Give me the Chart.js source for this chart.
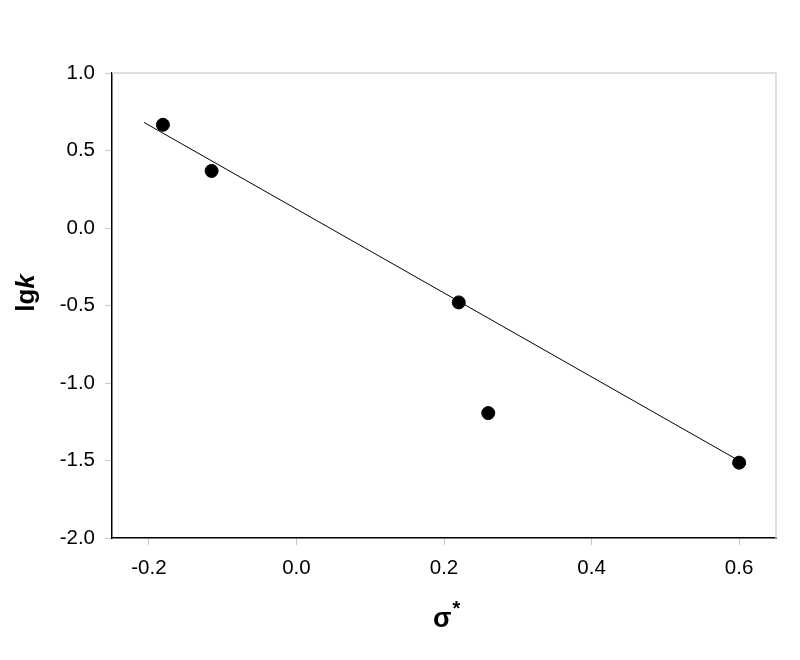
<!DOCTYPE html>
<html>
<head>
<meta charset="utf-8">
<title>lgk vs sigma*</title>
<script src="https://cdn.jsdelivr.net/npm/chart.js@4/dist/chart.umd.min.js"></script>
<style>
  body { margin: 0; background: #fff; }
  #wrap { width: 800px; height: 660px; }
</style>
</head>
<body>
<div id="wrap"><canvas id="chart" width="800" height="660"></canvas></div>
<script>
// ---- data ----
const sigmaStar = [-0.181, -0.115, 0.220, 0.260, 0.600];
const lgK = [0.666, 0.368, -0.480, -1.194, -1.514];

// regression line, two end points as drawn
const fitX = [-0.2065, 0.609];
const fitY = [0.681, -1.526];

const xTicks = [-0.2, 0.0, 0.2, 0.4, 0.6];
const yTicks = [1.0, 0.5, 0.0, -0.5, -1.0, -1.5, -2.0];

const FONT = "'Liberation Sans', Arial, sans-serif";

// draws the axis titles (mixed bold / italic) and the faint top/right frame
const extras = {
    id: 'extras',
    beforeDatasetsDraw(chart) {
        const ctx = chart.ctx, a = chart.chartArea;
        ctx.save();
        ctx.strokeStyle = '#d4d4d4';
        ctx.lineWidth = 1.5;
        ctx.beginPath();
        ctx.moveTo(a.left, a.top);
        ctx.lineTo(a.right, a.top);
        ctx.lineTo(a.right, a.bottom);
        ctx.stroke();
        ctx.restore();
    },
    afterDraw(chart) {
        const ctx = chart.ctx;
        ctx.save();
        ctx.fillStyle = '#000';
        ctx.textBaseline = 'alphabetic';

        // y title: "lg" + italic "k"
        ctx.font = 'bold 26px ' + FONT;
        const w1 = ctx.measureText('lg').width;
        ctx.font = 'italic bold 26px ' + FONT;
        const w2 = ctx.measureText('k').width;
        const total = w1 + w2;
        ctx.translate(34, 293 + total / 2);
        ctx.rotate(-Math.PI / 2);
        ctx.font = 'bold 26px ' + FONT;
        ctx.fillText('lg', 0, 0);
        ctx.font = 'italic bold 26px ' + FONT;
        ctx.fillText('k', w1, 0);
        ctx.restore();

        // x title: sigma with raised star
        ctx.save();
        ctx.fillStyle = '#000';
        ctx.font = 'bold 27px ' + FONT;
        const ws = ctx.measureText('σ').width;
        ctx.fillText('σ', 433, 627);
        ctx.font = 'bold 20px ' + FONT;
        ctx.fillText('*', 433 + ws + 1, 615);
        ctx.restore();
    }
};

const ctx = document.getElementById('chart').getContext('2d');

const myChart = new Chart(ctx, {
    type: 'scatter',
    data: {
        datasets: [
            {
                label: 'lgk',
                data: sigmaStar.map((x, i) => ({ x: x, y: lgK[i] })),
                backgroundColor: '#000',
                borderColor: '#000',
                pointRadius: 6.5,
                pointHoverRadius: 6.5
            },
            {
                type: 'line',
                label: 'fit',
                data: fitX.map((x, i) => ({ x: x, y: fitY[i] })),
                borderColor: '#000',
                borderWidth: 1,
                pointRadius: 0,
                fill: false
            }
        ]
    },
    options: {
        responsive: false,
        animation: false,
        devicePixelRatio: 1,
        layout: { padding: { top: 73, right: 24, left: 0, bottom: 0 } },
        plugins: {
            legend: { display: false },
            tooltip: { enabled: false }
        },
        scales: {
            x: {
                type: 'linear',
                min: -0.25,
                max: 0.65,
                afterBuildTicks: s => { s.ticks = xTicks.map(v => ({ value: v })); },
                afterFit: s => { s.height = 122; },
                grid: {
                    drawOnChartArea: false,
                    color: '#c8c8c8',
                    tickLength: 7,
                    lineWidth: 1
                },
                border: { display: true, color: '#000', width: 1.5 },
                ticks: {
                    color: '#000',
                    font: { family: FONT, size: 20.5 },
                    padding: 11,
                    maxRotation: 0,
                    callback: v => Number(v).toFixed(1)
                }
            },
            y: {
                type: 'linear',
                min: -2,
                max: 1,
                afterBuildTicks: s => { s.ticks = yTicks.map(v => ({ value: v })); },
                afterFit: s => { s.width = 112; },
                grid: {
                    drawOnChartArea: false,
                    color: '#c8c8c8',
                    tickLength: 7,
                    lineWidth: 1
                },
                border: { display: true, color: '#000', width: 1.5 },
                ticks: {
                    color: '#000',
                    font: { family: FONT, size: 20.5 },
                    padding: 10,
                    callback: v => Number(v).toFixed(1)
                }
            }
        }
    },
    plugins: [extras]
});
</script>
</body>
</html>
